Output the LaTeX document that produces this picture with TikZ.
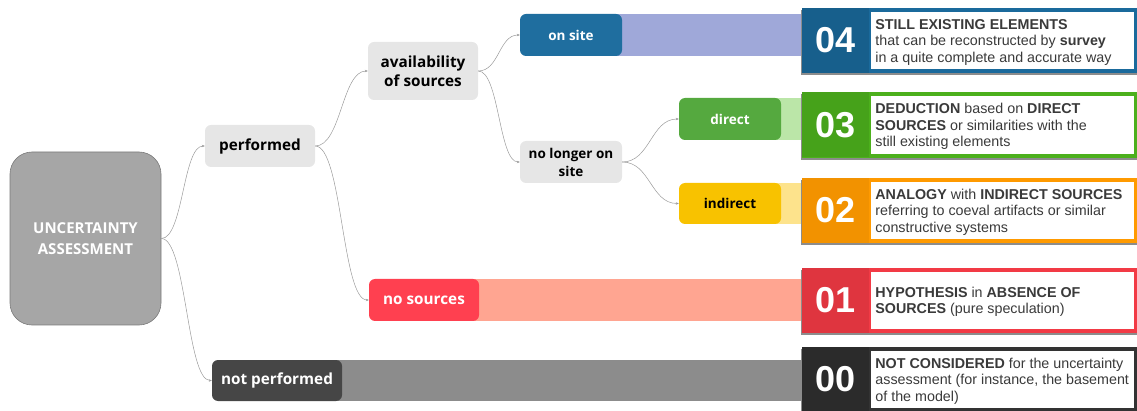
\documentclass[tikz,border=0pt]{standalone}
\usepackage{fontspec}
\setmainfont{Liberation Sans}
\newfontfamily\osans{Open Sans}
\usetikzlibrary{arrows.meta}
\definecolor{lightnode}{HTML}{E6E6E6}
\definecolor{rootfill}{HTML}{A6A6A6}
\definecolor{rootdraw}{HTML}{7A7A7A}
\definecolor{onsiteC}{HTML}{1F6E9F}
\definecolor{onsiteB}{HTML}{9FA8D9}
\definecolor{directC}{HTML}{55A93F}
\definecolor{directB}{HTML}{BBE6A8}
\definecolor{indirC}{HTML}{F8C200}
\definecolor{indirB}{HTML}{FDE38C}
\definecolor{nosrcC}{HTML}{FF4050}
\definecolor{nosrcB}{HTML}{FFA591}
\definecolor{notpC}{HTML}{464646}
\definecolor{notpB}{HTML}{8C8C8C}
\definecolor{cardA}{HTML}{1A6A9C}
\definecolor{cardB}{HTML}{4CB01C}
\definecolor{cardC}{HTML}{FF9A00}
\definecolor{cardD}{HTML}{F23A45}
\definecolor{cardE}{HTML}{333333}
\definecolor{cardtext}{HTML}{3A3A3A}
\definecolor{connC}{HTML}{9A9A9A}
\tikzset{
  mm/.style={rounded corners=6pt, inner sep=0pt, align=center,
    font=\osans\bfseries\fontsize{15.3}{19}\selectfont},
  smallmm/.style={font=\osans\bfseries\fontsize{13.5}{18}\selectfont},
  lightmm/.style={mm, fill=lightnode, text=black},
  colmm/.style={mm, fill=#1, text=white},
  conn/.style={draw=connC, line width=0.5pt, -{Stealth[length=3pt,width=2.5pt]}},
  cardbox/.style={minimum width=335pt, minimum height=65pt, inner sep=0pt},
  numbox/.style={minimum width=67pt, minimum height=65pt, inner sep=0pt, fill=#1,
    text=white, font=\bfseries\fontsize{36}{36}\selectfont},
  cardtxt/.style={anchor=west, align=left, inner sep=0pt, text=cardtext,
    font=\fontsize{14.3}{16.5}\selectfont},
}
\begin{document}
\begin{tikzpicture}[x=1pt,y=-1pt]
\useasboundingbox (0,0) rectangle (1137,411);

% mind-map nodes
\node[mm, fill=rootfill, draw=rootdraw, line width=0.6pt, rounded corners=22pt, text=white,
  minimum width=151pt, minimum height=173pt, font=\osans\bfseries\fontsize{15}{21}\selectfont]
  (root) at (85.5,238.5) {UNCERTAINTY\\ASSESSMENT};
\node[lightmm, minimum width=110pt, minimum height=42pt] (perf) at (260,146) {performed};
\node[lightmm, minimum width=110pt, minimum height=58pt] (avail) at (423,71) {availability\\of sources};
\node[lightmm, smallmm, minimum width=102pt, minimum height=42pt] (nolonger) at (571,162) {no longer on\\site};

% card anchors
\path (969.5,40.5) node[cardbox] (c4) {};
\path (969.5,125) node[cardbox] (c3) {};
\path (969.5,210.5) node[cardbox] (c2) {};
\path (969.5,300.5) node[cardbox] (c1) {};
\path (969.5,379.5) node[cardbox] (c0) {};

% bars
\fill[onsiteB] (571,14) rectangle (c4.west |- 0,56);
\fill[directB] (730,98) rectangle (c3.west |- 0,140);
\fill[indirB] (730,183) rectangle (c2.west |- 0,224);
\fill[nosrcB] (424,279) rectangle (c1.west |- 0,321);
\fill[notpB] (277,360) rectangle (c0.west |- 0,401);

% coloured nodes
\node[colmm=onsiteC, smallmm, minimum width=102pt, minimum height=42pt] (onsite) at (571,35) {on site};
\node[colmm=directC, smallmm, minimum width=102pt, minimum height=42pt] (direct) at (730,119) {direct};
\node[mm, smallmm, fill=indirC, text=black, minimum width=102pt, minimum height=41pt] (indirect) at (730,203.5) {indirect};
\node[colmm=nosrcC, minimum width=110pt, minimum height=42pt] (nosrc) at (424,300) {no sources};
\node[colmm=notpC, minimum width=130pt, minimum height=41pt] (notperf) at (277,380.5) {not performed};

% connectors
\draw[conn] (root.east) .. controls +(22,0) and +(-22,0) .. (perf.west);
\draw[conn] (root.east) .. controls +(25,0) and +(-25,0) .. (notperf.west);
\draw[conn] (perf.east) .. controls +(26,0) and +(-26,0) .. (avail.west);
\draw[conn] (perf.east) .. controls +(27,0) and +(-27,0) .. (nosrc.west);
\draw[conn] (avail.east) .. controls +(21,0) and +(-21,0) .. (onsite.west);
\draw[conn] (avail.east) .. controls +(21,0) and +(-21,0) .. (nolonger.west);
\draw[conn] (nolonger.east) .. controls +(28,0) and +(-28,0) .. (direct.west);
\draw[conn] (nolonger.east) .. controls +(28,0) and +(-28,0) .. (indirect.west);

% card drawing
\foreach \c/\col in {c4/cardA, c3/cardB, c2/cardC, c1/cardD, c0/cardE}{
  \fill[black!45] ([xshift=-1pt,yshift=-2pt]\c.north west) rectangle ([yshift=-2pt]\c.south east);
  \fill[\col] (\c.north west) rectangle (\c.south east);
  \fill[white] ([xshift=69pt,yshift=-4pt]\c.north west) rectangle ([xshift=-3pt,yshift=4pt]\c.south east);
}
\node[numbox=cardA!90!black, anchor=west] (n4) at (c4.west) {04};
\node[numbox=cardB!92!black, anchor=west] (n3) at (c3.west) {03};
\node[numbox=cardC!95!black, anchor=west] (n2) at (c2.west) {02};
\node[numbox=cardD!92!black, anchor=west] (n1) at (c1.west) {01};
\node[numbox=cardE!85!black, anchor=west] (n0) at (c0.west) {00};

\node[cardtxt] (t4) at ([xshift=6pt,yshift=-1.5pt]n4.east) {\textbf{STILL EXISTING ELEMENTS}\\that can be reconstructed by \textbf{survey}\\in a quite complete and accurate way};
\node[cardtxt] (t3) at ([xshift=6pt,yshift=-1.5pt]n3.east) {\textbf{DEDUCTION} based on \textbf{DIRECT}\\\textbf{SOURCES} or similarities with the\\still existing elements};
\node[cardtxt] (t2) at ([xshift=6pt,yshift=-1.5pt]n2.east) {\textbf{ANALOGY} with \textbf{INDIRECT SOURCES}\\referring to coeval artifacts or similar\\constructive systems};
\node[cardtxt] (t1) at ([xshift=6pt,yshift=-1.5pt]n1.east) {\textbf{HYPOTHESIS} in \textbf{ABSENCE OF}\\\textbf{SOURCES} (pure speculation)};
\node[cardtxt] (t0) at ([xshift=6pt,yshift=-1.5pt]n0.east) {\textbf{NOT CONSIDERED} for the uncertainty\\assessment (for instance, the basement\\of the model)};
\end{tikzpicture}
\end{document}
